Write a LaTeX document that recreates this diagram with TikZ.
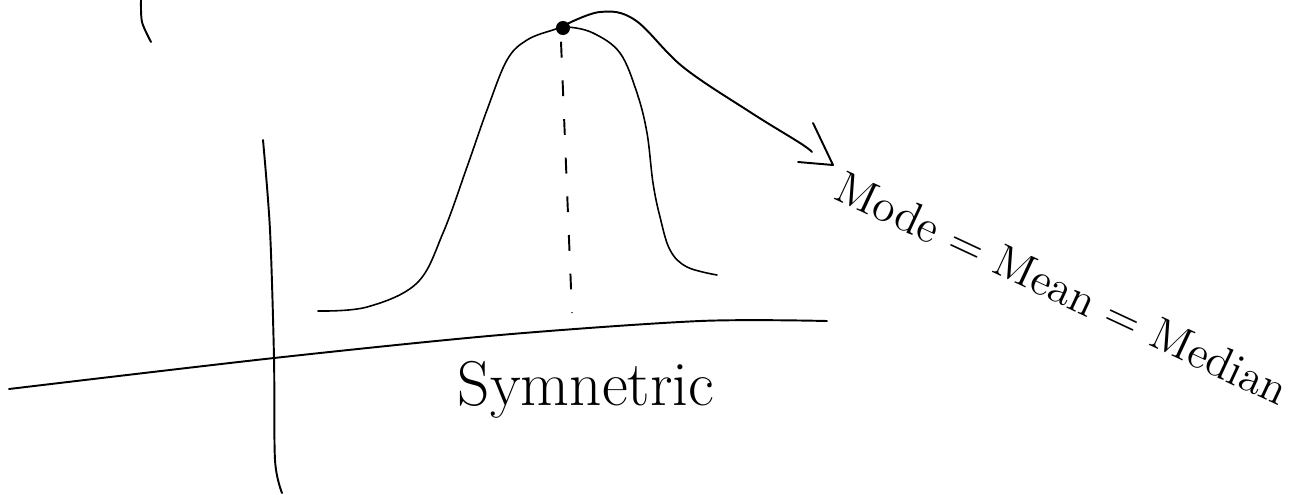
\documentclass[tikz,border=0pt]{standalone}
\usetikzlibrary{calc}
\begin{document}
\begin{tikzpicture}[x=0.01cm,y=-0.01cm,
  ink/.style={line width=0.55pt,line cap=round,line join=round},
  thin ink/.style={line width=0.45pt,line cap=round,line join=round},
  dashline/.style={line width=0.55pt,dash pattern=on 4.5pt off 6.5pt},
  label/.style={inner sep=0pt,font=\fontsize{13}{15}\selectfont},
  dotnode/.style={circle,fill=black,inner sep=0pt,minimum size=4pt}]
\useasboundingbox (0,0) rectangle (1304,494);
% stray arc top-left
\draw[ink] plot[smooth] coordinates {(141,0) (142,22) (151,42)};
% vertical axis
\draw[ink] plot[smooth] coordinates {(263,140) (270,230) (274,358) (275,460) (282,493)};
% horizontal axis
\draw[ink] plot[smooth,tension=0.5] coordinates {(9,389) (274,358) (500,335) (700,321) (827,321)};
% bell curve
\draw[thin ink] plot[smooth,tension=0.6] coordinates {(318,311) (367,307) (417,283) (443,233) (467,167) (487,110) (507,60) (527,40) (553,30) (567,27) (593,33) (620,53) (637,93) (647,133) (653,183) (660,217) (670,250) (687,267) (717,275)};
% mode dot
\node[dotnode] (dot) at (563,28) {};
% dashed line
\coordinate (base) at (572,313);
\draw[dashline] (dot.south) ++(-2,6) -- (base);
% label
\node[label,rotate=-25,anchor=base west] (lab) at (832,198) {Mode = Mean = Median};
% arrow
\coordinate (tip) at (833,165);
\draw[ink] plot[smooth,tension=0.6] coordinates {(563,26) (600,12) (635,20) (683,67) (750,112) (800,143) (812,152)};
\draw[ink] (813,123) -- (tip) -- (798,162);
% caption
\node[inner sep=0pt,anchor=base,font=\fontsize{18}{20}\selectfont] (cap) at (586,405) {Symnetric};
\end{tikzpicture}
\end{document}
